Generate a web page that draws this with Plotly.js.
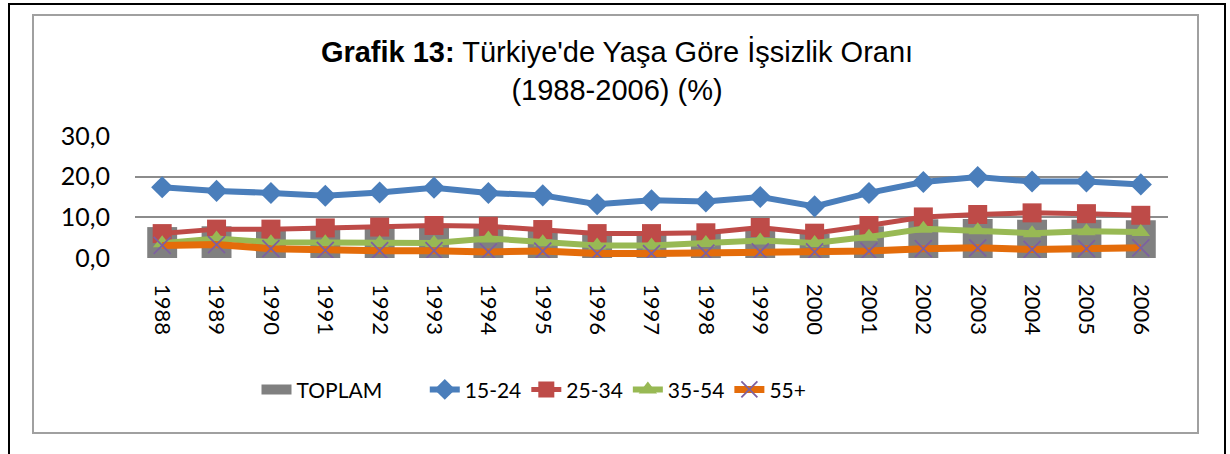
<!DOCTYPE html>
<html>
<head>
<meta charset="utf-8">
<script src="https://cdn.plot.ly/plotly-3.0.1.min.js"></script>
<style>
  html, body { margin: 0; padding: 0; background: #ffffff; overflow: hidden; }
  #chart { position: absolute; left: 0; top: 0; width: 1230px; height: 454px; }
  #outer { position: absolute; left: 8px; top: 3px; width: 1214px; height: 470px; border: 2px solid #000; border-bottom: none; pointer-events: none; }
  #inner { position: absolute; left: 32px; top: 14px; width: 1163px; height: 416px; border: 2px solid #a0a0a0; pointer-events: none; }
</style>
</head>
<body>
<div id="chart"></div>
<div id="outer"></div>
<div id="inner"></div>
<script>
const years = ["1988","1989","1990","1991","1992","1993","1994","1995","1996","1997","1998","1999","2000","2001","2002","2003","2004","2005","2006"];
const toplam = [7.6, 7.8, 7.4, 7.6, 7.8, 8.0, 8.0, 7.0, 6.0, 6.2, 6.4, 7.2, 6.0, 7.8, 9.5, 9.6, 9.4, 9.4, 9.3];
const age1524 = [17.4, 16.5, 16.0, 15.3, 16.1, 17.3, 16.0, 15.4, 13.2, 14.2, 13.9, 15.0, 12.7, 16.0, 18.7, 19.9, 18.8, 18.8, 18.1];
const age2534 = [6.0, 7.1, 7.1, 7.4, 7.6, 8.0, 7.8, 7.0, 6.0, 6.0, 6.2, 7.5, 6.1, 8.0, 10.1, 10.7, 11.1, 10.9, 10.5];
const age3554 = [3.6, 4.8, 3.9, 3.9, 3.7, 3.7, 4.8, 3.9, 3.1, 3.1, 3.7, 4.3, 3.7, 5.2, 7.2, 6.8, 6.1, 6.6, 6.4];
const age55 = [3.1, 3.3, 2.3, 1.9, 1.8, 1.8, 1.5, 1.7, 1.1, 1.1, 1.2, 1.5, 1.5, 1.7, 2.3, 2.5, 2.1, 2.3, 2.5];
const yTicks = [0, 10, 20, 30];
const yTickText = ["0,0", "10,0", "20,0", "30,0"];
const seriesNames = ["TOPLAM", "15-24", "25-34", "35-54", "55+"];

const labelFont = "Lato, 'Liberation Sans', sans-serif";
const pad = '\u00a0'.repeat(7);

const traces = [
  { type: 'bar', name: seriesNames[0], x: years, y: toplam, width: 0.55,
    marker: { color: '#808080' }, showlegend: false },
  { type: 'scatter', mode: 'lines', name: seriesNames[0] + pad, x: [years[0]], y: [null],
    line: { color: '#808080', width: 14 }, showlegend: true },
  { type: 'scatter', mode: 'lines+markers', name: seriesNames[1], x: years, y: age1524,
    line: { color: '#4A7EBB', width: 6 },
    marker: { symbol: 'diamond', size: 17, color: '#4A7EBB' } },
  { type: 'scatter', mode: 'lines+markers', name: seriesNames[2], x: years, y: age2534,
    line: { color: '#BE4B48', width: 5 },
    marker: { symbol: 'square', size: 19, color: '#BE4B48' } },
  { type: 'scatter', mode: 'lines+markers', name: seriesNames[3], x: years, y: age3554,
    line: { color: '#98B954', width: 6 },
    marker: { symbol: 'triangle-up', size: 16, color: '#98B954' } },
  { type: 'scatter', mode: 'lines+markers', name: seriesNames[4], x: years, y: age55,
    line: { color: '#E46C0A', width: 7 },
    marker: { symbol: 'x-thin', size: 17, color: '#7D60A0', line: { color: '#7D60A0', width: 1.8 } } }
];

const layout = {
  width: 1230, height: 454,
  margin: { l: 135, r: 62, t: 136, b: 196, pad: 0 },
  paper_bgcolor: 'rgba(0,0,0,0)',
  plot_bgcolor: 'rgba(0,0,0,0)',
  showlegend: true,
  title: {
    text: "<b>Grafik 13:</b> Türkiye'de Yaşa Göre İşsizlik Oranı<br>(1988-2006) (%)",
    font: { family: "'Liberation Sans', Arial, sans-serif", size: 29, color: '#000' },
    x: 617 / 1230, xref: 'container', xanchor: 'center',
    y: 1 - 62 / 454, yref: 'container', yanchor: 'middle'
  },
  xaxis: {
    type: 'category',
    range: [-0.5, 18.5],
    tickangle: 90,
    tickfont: { family: labelFont, size: 22, color: '#000' },
    ticks: '', showgrid: false, showline: false, zeroline: false,
    ticklabelstandoff: 25
  },
  yaxis: {
    range: [0, 30],
    tickvals: yTicks, ticktext: yTickText,
    tickfont: { family: labelFont, size: 25, color: '#000' },
    ticks: '', showline: false, zeroline: false,
    showgrid: true, gridcolor: '#8c8c8c', gridwidth: 2,
    ticklabelstandoff: 24
  },
  legend: {
    orientation: 'h',
    x: (534 - 135) / 1033, xanchor: 'center',
    y: -1.08, yanchor: 'middle',
    font: { family: labelFont, size: 21, color: '#000' },
    itemwidth: 30,
    traceorder: 'normal'
  },
  bargap: 0.45
};

Plotly.newPlot('chart', traces, layout, { staticPlot: true, displayModeBar: false });
</script>
</body>
</html>
